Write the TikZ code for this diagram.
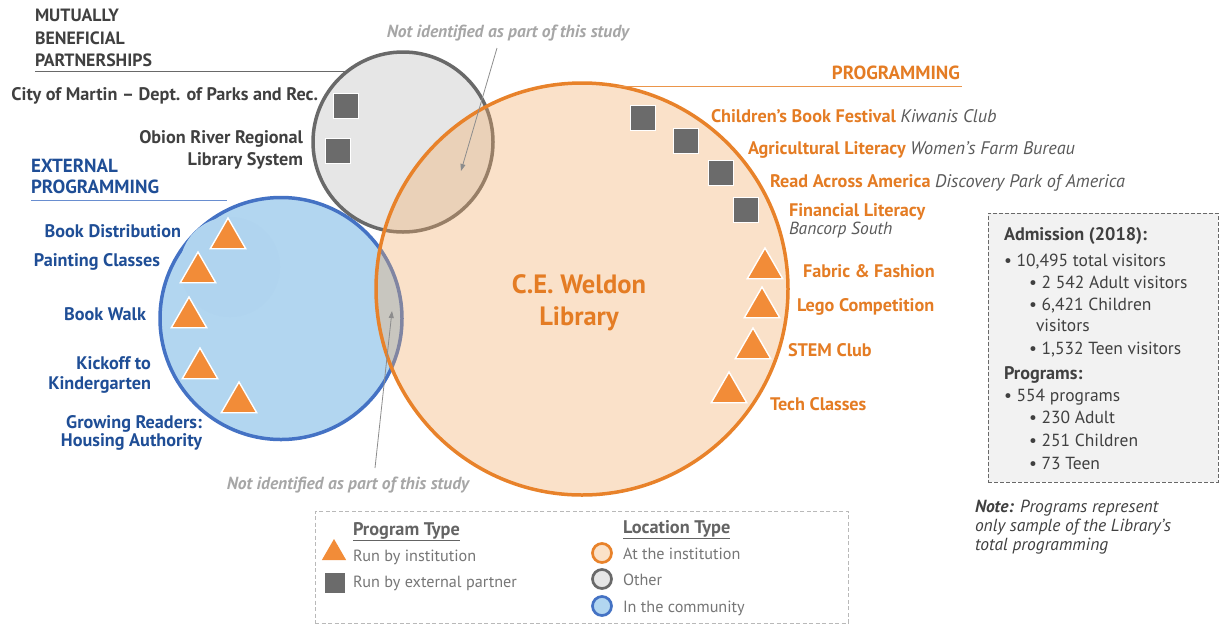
\documentclass[tikz,border=0pt]{standalone}
\usepackage{fontspec}
\setmainfont{PT Sans}
\usetikzlibrary{shapes.geometric,arrows.meta}
\definecolor{dk}{RGB}{64,64,64}
\definecolor{bl}{RGB}{31,78,150}
\definecolor{orT}{RGB}{228,124,36}
\definecolor{orL}{RGB}{232,130,42}
\definecolor{orF}{RGB}{242,170,100}
\definecolor{triO}{RGB}{242,140,56}
\definecolor{gyL}{RGB}{105,105,105}
\definecolor{gyF}{RGB}{230,230,230}
\definecolor{sqG}{RGB}{107,107,107}
\definecolor{blL}{RGB}{68,114,196}
\definecolor{blF}{RGB}{178,214,240}
\definecolor{blFaint}{RGB}{176,212,239}
\definecolor{itG}{RGB}{90,90,90}
\definecolor{ltG}{RGB}{166,166,166}
\definecolor{legT}{RGB}{118,118,118}
\definecolor{legH}{RGB}{100,100,100}
\definecolor{boxF}{RGB}{242,242,242}
\definecolor{peach}{RGB}{251,226,200}
\begin{document}
\begin{tikzpicture}[x=1pt,y=-1pt,
  every node/.style={inner sep=0pt,outer sep=0pt},
  lab/.style={font=\fontsize{18.2}{21}\selectfont\bfseries,yshift=-3pt},
  hdk/.style={font=\fontsize{17.8}{21}\selectfont\bfseries,yshift=-3pt},
  hcol/.style={font=\fontsize{19}{22}\selectfont\bfseries,yshift=-3pt},
  txt/.style={font=\fontsize{17.5}{21}\selectfont,yshift=-3pt},
  itx/.style={font=\fontsize{17.5}{21}\selectfont\itshape,yshift=-3pt},
  legtxt/.style={font=\fontsize{16.2}{19}\selectfont,yshift=-1.5pt},
  leghd/.style={font=\fontsize{18.3}{21}\selectfont\bfseries,yshift=-1.5pt},
  sqbox/.style={rectangle,draw=white,line width=1.4pt,fill=sqG,minimum size=25pt},
  tribox/.style={regular polygon,regular polygon sides=3,minimum size=41pt,fill=triO,draw=white,line width=1.4pt},
  arr/.style={draw=gray!90,line width=0.8pt,-{Triangle[length=7pt,width=5pt]}},
  legring/.style={circle,minimum size=19pt,line width=2.7pt}]
\useasboundingbox (0,0) rectangle (1220,625);
% circles
\node[circle,minimum size=180pt,fill=gyF,draw=gyL,line width=3.5pt] (other) at (403,142) {};
\node[circle,minimum size=242pt,fill=blF,draw=blL,line width=3.5pt] (comm) at (281,318.5) {};
\node[circle,minimum size=100pt,fill=blFaint] (faint) at (230,267) {};
\node[circle,minimum size=412pt,fill=orF,fill opacity=0.35,draw=orL,line width=3.5pt] (inst) at (582,289) {};
% header lines
\draw[gyL,line width=1pt] (35,71) -- (348,71);
\draw[blL!80,line width=1pt] (31,200) -- (227,200);
\draw[orL!85,line width=1pt] (617,86) -- (962,86);
% headings
\node[hdk,dk,anchor=mid west] (mbp1) at (35,16) {MUTUALLY};
\node[hdk,dk,anchor=mid west] (mbp2) at (35,39) {BENEFICIAL};
\node[hdk,dk,anchor=mid west] (mbp3) at (35,61) {PARTNERSHIPS};
\node[hcol,bl,anchor=mid west] (ep1) at (31,167) {EXTERNAL};
\node[hcol,bl,anchor=mid west] (ep2) at (31,188) {PROGRAMMING};
\node[hcol,orT,anchor=mid east] (prog) at (960,74) {PROGRAMMING};
% partner squares
\node[sqbox] (s1) at (346,106) {};
\node[sqbox] (s2) at (338,151) {};
\node[sqbox] (s3) at (643,118) {};
\node[sqbox] (s4) at (686,141) {};
\node[sqbox] (s5) at (721,173) {};
\node[sqbox] (s6) at (746,210) {};
% triangles
\node[tribox] (t1) at (228,238.5) {};
\node[tribox] (t2) at (198,272.5) {};
\node[tribox] (t3) at (189,317.5) {};
\node[tribox] (t4) at (200,368.5) {};
\node[tribox] (t5) at (239,402.5) {};
\node[tribox] (t6) at (765,268.5) {};
\node[tribox] (t7) at (762,307.5) {};
\node[tribox] (t8) at (753,348.5) {};
\node[tribox] (t9) at (729,392.5) {};
% gray labels
\node[lab,dk,anchor=mid east] (cm) at (318,95) {City of Martin – Dept. of Parks and Rec.};
\node[lab,dk,anchor=mid east] (or1) at (303,138) {Obion River Regional};
\node[lab,dk,anchor=mid east] (or2) at (303,160) {Library System};
% blue labels
\node[lab,bl,anchor=mid east] (bd) at (181,232) {Book Distribution};
\node[lab,bl,anchor=mid east] (pc) at (160,261) {Painting Classes};
\node[lab,bl,anchor=mid east] (bw) at (146,315) {Book Walk};
\node[lab,bl,anchor=mid east] (kk1) at (151,364) {Kickoff to};
\node[lab,bl,anchor=mid east] (kk2) at (151,384) {Kindergarten};
\node[lab,bl,anchor=mid east] (gr1) at (202,423) {Growing Readers:};
\node[lab,bl,anchor=mid east] (gr2) at (202,441) {Housing Authority};
% orange labels
\node[lab,orT,anchor=mid west] (cbf) at (711,117) {Children’s Book Festival \textcolor{itG}{\mdseries\itshape Kiwanis Club}};
\node[lab,orT,anchor=mid west] (agl) at (748,149) {Agricultural Literacy \textcolor{itG}{\mdseries\itshape Women’s Farm Bureau}};
\node[lab,orT,anchor=mid west] (raa) at (770,182) {Read Across America \textcolor{itG}{\mdseries\itshape Discovery Park of America}};
\node[lab,orT,anchor=mid west] (fl) at (789,211) {Financial Literacy};
\node[itx,itG,anchor=mid west] (bs) at (789,229) {Bancorp South};
\node[lab,orT,anchor=mid west] (ff) at (803,272) {Fabric \& Fashion};
\node[lab,orT,anchor=mid west] (lc) at (797,306) {Lego Competition};
\node[lab,orT,anchor=mid west] (stem) at (788,351) {STEM Club};
\node[lab,orT,anchor=mid west] (tc) at (770,405) {Tech Classes};
% center
\node[font=\fontsize{26.5}{30}\selectfont\bfseries,orT] (lib1) at (579,284) {C.E. Weldon};
\node[font=\fontsize{26.5}{30}\selectfont\bfseries,orT] (lib2) at (579,319) {Library};
% not identified
\node[ltG,font=\fontsize{17.5}{21}\selectfont\bfseries\itshape] (ni1) at (508,33) {Not identified as part of this study};
\coordinate (a1s) at (497,48);
\coordinate (a1e) at (461,171);
\draw[arr] (a1s) -- (a1e);
\node[ltG,font=\fontsize{17.5}{21}\selectfont\bfseries\itshape] (ni2) at (348,485) {Not identified as part of this study};
\coordinate (a2s) at (375,468);
\coordinate (a2e) at (392,311);
\draw[arr] (a2s) -- (a2e);
% stats box
\node[rectangle,draw=gyL,dash pattern=on 4pt off 2pt,line width=1pt,fill=boxF,minimum width=230pt,minimum height=269pt] (stats) at (1103,347.5) {};
\node[lab,dk,anchor=mid west] (adm) at (1004,235) {Admission (2018):};
\node[txt,dk,anchor=mid west] (v1) at (1004,261) {• 10,495 total visitors};
\node[txt,dk,anchor=mid west] (v2) at (1029,283) {• 2 542 Adult visitors};
\node[txt,dk,anchor=mid west] (v3) at (1029,305) {• 6,421 Children};
\node[txt,dk,anchor=mid west] (v3b) at (1036,326) {visitors};
\node[txt,dk,anchor=mid west] (v4) at (1029,349) {• 1,532 Teen visitors};
\node[lab,dk,anchor=mid west] (prg) at (1004,374) {Programs:};
\node[txt,dk,anchor=mid west] (p1) at (1004,396) {• 554 programs};
\node[txt,dk,anchor=mid west] (p2) at (1029,418) {• 230 Adult};
\node[txt,dk,anchor=mid west] (p3) at (1029,441) {• 251 Children};
\node[txt,dk,anchor=mid west] (p4) at (1029,464) {• 73 Teen};
% note
\node[itx,dk,anchor=mid west] (n1) at (975,507) {\bfseries Note:\mdseries{} Programs represent};
\node[itx,dk,anchor=mid west] (n2) at (975,526) {only sample of the Library’s};
\node[itx,dk,anchor=mid west] (n3) at (975,545) {total programming};
% legend
\node[rectangle,draw=gray!55,dash pattern=on 4pt off 2.5pt,line width=1pt,fill=white,minimum width=533pt,minimum height=112pt] (legend) at (581.5,567) {};
\node[leghd,legH,anchor=mid west] (lpt) at (353,531) {\underline{Program Type}};
\node[regular polygon,regular polygon sides=3,minimum size=28pt,fill=triO] (ltri) at (334,553) {};
\node[legtxt,legT,anchor=mid west] (lt1) at (353,557) {Run by institution};
\node[rectangle,minimum size=20pt,fill=sqG] (lsq) at (334.5,582.5) {};
\node[legtxt,legT,anchor=mid west] (lt2) at (353,583) {Run by external partner};
\node[leghd,legH,anchor=mid west] (llt) at (623,529) {\underline{Location Type}};
\node[legring,fill=peach,draw=orL] (lc1) at (602,553) {};
\node[legring,fill=gyF,draw=gyL] (lc2) at (602,579) {};
\node[legring,fill=blF,draw=blL] (lc3) at (602,606) {};
\node[legtxt,legT,anchor=mid west] (lx1) at (623,555) {At the institution};
\node[legtxt,legT,anchor=mid west] (lx2) at (623,581) {Other};
\node[legtxt,legT,anchor=mid west] (lx3) at (623,608) {In the community};
\end{tikzpicture}
\end{document}
